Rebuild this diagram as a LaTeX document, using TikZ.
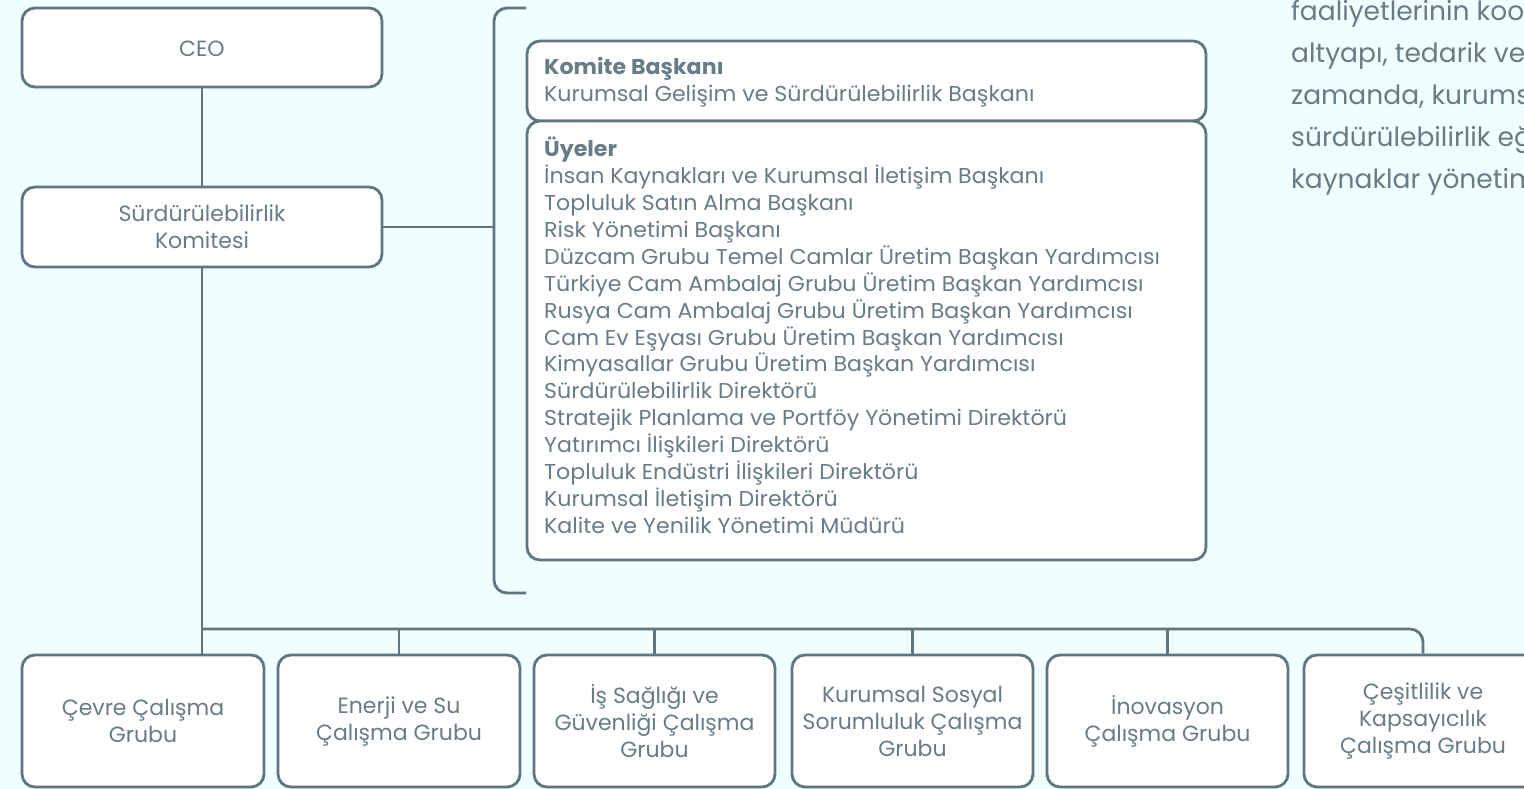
\documentclass[tikz,border=0pt]{standalone}
\usepackage{fontspec}
\setmainfont{Poppins}
\newfontfamily\listfont{Poppins}[FakeStretch=1.03]
\definecolor{bg}{HTML}{F0FEFF}
\definecolor{ln}{HTML}{5F7580}
\definecolor{tx}{HTML}{677C87}
\tikzset{
  box/.style={draw=ln, line width=2.8pt, fill=white, rounded corners=13pt, inner sep=0pt},
  boxtext/.style={text=tx, align=center, font=\fontsize{22}{27}\selectfont},
  listtext/.style={text=tx, anchor=base west, inner sep=0pt, font=\listfont\fontsize{21.5}{27}\selectfont},
  sidetext/.style={text=tx, anchor=base west, inner sep=0pt, font=\fontsize{26.5}{42}\selectfont},
  conn/.style={draw=ln, line width=2.8pt}
}
\begin{document}
\begin{tikzpicture}[x=1pt,y=-1pt]
\useasboundingbox (0,0) rectangle (1524,789);
\clip (0,0) rectangle (1524,789);
\fill[bg] (0,0) rectangle (1524,789);

% side text (cut off at the right edge)
\node[sidetext] (s1) at (1291,20.5) {faaliyetlerinin koordinasyonu};
\node[sidetext] (s2) at (1291,63) {altyapı, tedarik ve};
\node[sidetext] (s3) at (1291,104.5) {zamanda, kurumsal};
\node[sidetext] (s4) at (1291,146.5) {sürdürülebilirlik eğitimleri};
\node[sidetext] (s5) at (1291,189) {kaynaklar yönetimi};

% left column
\node[box, minimum width=360pt, minimum height=79pt] (ceo) at (202,47.5) {};
\node[boxtext] (ceot) at (202,49) {CEO};
\node[box, minimum width=360pt, minimum height=80pt] (kom) at (202,227) {};
\node[boxtext] (komt) at (kom.center) {Sürdürülebilirlik\\Komitesi};

\draw[conn] (ceo.south) -- (kom.north);

% bracket
\coordinate (brtop) at (526,8);
\coordinate (brbot) at (526,593);
\coordinate (brmid) at (494,227);
\draw[conn, rounded corners=13pt] (brtop) -- (494,8) -- (494,593) -- (brbot);
\draw[conn] (kom.east) -- (brmid);

% committee boxes
\node[box, minimum width=679pt, minimum height=80pt] (chair) at (866.5,81) {};
\node[box, minimum width=679pt, minimum height=439pt] (mem) at (866.5,340.5) {};

\node[listtext] (c1) at (544,75) {\bfseries Komite Başkanı};
\node[listtext] (c2) at (544,102) {Kurumsal Gelişim ve Sürdürülebilirlik Başkanı};

\node[listtext] (m0) at (544,156.7) {\bfseries Üyeler};
\node[listtext] (m1) at (544,183.6) {İnsan Kaynakları ve Kurumsal İletişim Başkanı};
\node[listtext] (m2) at (544,210.5) {Topluluk Satın Alma Başkanı};
\node[listtext] (m3) at (544,237.4) {Risk Yönetimi Başkanı};
\node[listtext] (m4) at (544,264.3) {Düzcam Grubu Temel Camlar Üretim Başkan Yardımcısı};
\node[listtext] (m5) at (544,291.2) {Türkiye Cam Ambalaj Grubu Üretim Başkan Yardımcısı};
\node[listtext] (m6) at (544,318.1) {Rusya Cam Ambalaj Grubu Üretim Başkan Yardımcısı};
\node[listtext] (m7) at (544,345.0) {Cam Ev Eşyası Grubu Üretim Başkan Yardımcısı};
\node[listtext] (m8) at (544,371.9) {Kimyasallar Grubu Üretim Başkan Yardımcısı};
\node[listtext] (m9) at (544,398.8) {Sürdürülebilirlik Direktörü};
\node[listtext] (m10) at (544,425.7) {Stratejik Planlama ve Portföy Yönetimi Direktörü};
\node[listtext] (m11) at (544,452.6) {Yatırımcı İlişkileri Direktörü};
\node[listtext] (m12) at (544,479.5) {Topluluk Endüstri İlişkileri Direktörü};
\node[listtext] (m13) at (544,506.4) {Kurumsal İletişim Direktörü};
\node[listtext] (m14) at (544,533.3) {Kalite ve Yenilik Yönetimi Müdürü};

% working groups
\node[box, minimum width=242pt, minimum height=132pt] (b1) at (143,721) {};
\node[box, minimum width=242pt, minimum height=132pt] (b2) at (399,721) {};
\node[box, minimum width=241pt, minimum height=132pt] (b3) at (654.5,721) {};
\node[box, minimum width=241pt, minimum height=132pt] (b4) at (912.5,721) {};
\node[box, minimum width=241pt, minimum height=132pt] (b5) at (1167.5,721) {};
\node[box, minimum width=238pt, minimum height=132pt] (b6) at (1423,721) {};

\node[boxtext] (t1) at (b1.center) {Çevre Çalışma\\Grubu};
\node[boxtext] (t2) at (b2.center) {Enerji ve Su\\Çalışma Grubu};
\node[boxtext] (t3) at (b3.center) {İş Sağlığı ve\\Güvenliği Çalışma\\Grubu};
\node[boxtext] (t4) at (b4.center) {Kurumsal Sosyal\\Sorumluluk Çalışma\\Grubu};
\node[boxtext] (t5) at (b5.center) {İnovasyon\\Çalışma Grubu};
\node[boxtext] (t6) at (b6.center) {Çeşitlilik ve\\Kapsayıcılık\\Çalışma Grubu};

% connectors to working groups
\draw[conn] (kom.south) -- (kom.south |- b1.north);
\coordinate (bus) at (202,629);
\draw[conn, rounded corners=13pt] (bus) -- (b6.north |- bus) -- (b6.north);
\draw[conn] (b2.north) -- (b2.north |- bus);
\draw[conn] (b3.north) -- (b3.north |- bus);
\draw[conn] (b4.north) -- (b4.north |- bus);
\draw[conn] (b5.north) -- (b5.north |- bus);
\end{tikzpicture}
\end{document}
